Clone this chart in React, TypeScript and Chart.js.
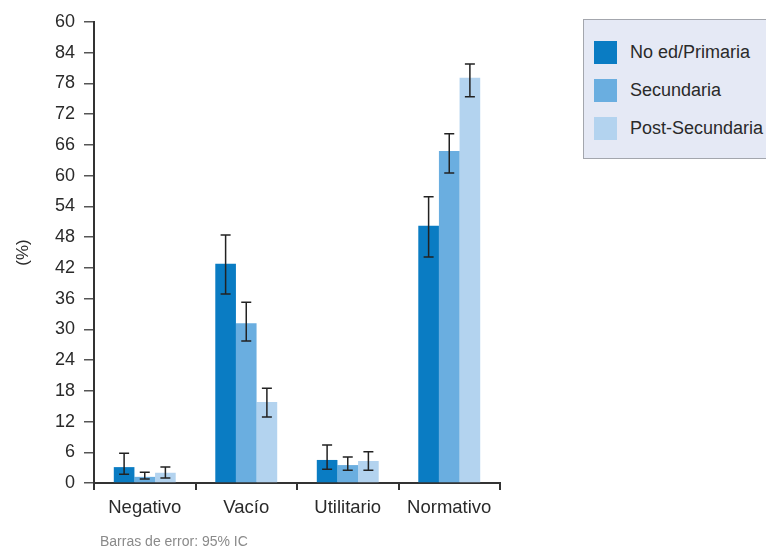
import React, { useEffect, useRef } from "react";
import { Chart, registerables } from "chart.js";

Chart.register(...registerables);

const categories = ["Negativo", "Vacío", "Utilitario", "Normativo"];
const seriesNames = ["No ed/Primaria", "Secundaria", "Post-Secundaria"];
const seriesColors = ["#0a7cc3", "#6aaee0", "#b3d3ef"];
const primaria = [3.1, 42.8, 4.5, 50.2];
const primariaLow = [1.7, 36.9, 2.7, 44.1];
const primariaHigh = [5.8, 48.4, 7.4, 55.9];
const secundaria = [1.2, 31.2, 3.5, 64.8];
const secundariaLow = [0.8, 27.7, 2.5, 60.5];
const secundariaHigh = [2.1, 35.3, 5.1, 68.2];
const postSecundaria = [2.0, 15.8, 4.3, 79.1];
const postLow = [1.0, 12.9, 2.5, 75.4];
const postHigh = [3.1, 18.5, 6.1, 81.8];
const yTickLabels = ["0", "6", "12", "18", "24", "30", "36", "42", "48", "54", "60", "66", "72", "78", "84", "60"];

const FONT = "'Liberation Sans', Arial, sans-serif";
const TEXT = "#2a2a2a";

const errorBarPlugin = {
  id: "errorBars",
  afterDatasetsDraw(chart: any) {
    const ctx = chart.ctx;
    const y = chart.scales.y;
    chart.data.datasets.forEach((ds: any, di: number) => {
      const meta = chart.getDatasetMeta(di);
      meta.data.forEach((bar: any, i: number) => {
        const lo = y.getPixelForValue(ds.errLow[i]);
        const hi = y.getPixelForValue(ds.errHigh[i]);
        const x = bar.x;
        ctx.save();
        ctx.strokeStyle = "#222222";
        ctx.lineWidth = 1.5;
        ctx.beginPath();
        ctx.moveTo(x, lo);
        ctx.lineTo(x, hi);
        ctx.moveTo(x - 5, lo);
        ctx.lineTo(x + 5, lo);
        ctx.moveTo(x - 5, hi);
        ctx.lineTo(x + 5, hi);
        ctx.stroke();
        ctx.restore();
      });
    });
  },
};

export default function App() {
  const ref = useRef<HTMLCanvasElement | null>(null);
  useEffect(() => {
    if (!ref.current) return;
    const chart = new Chart(ref.current, {
      type: "bar",
      data: {
        labels: categories,
        datasets: [
          { label: seriesNames[0], data: primaria, backgroundColor: seriesColors[0], errLow: primariaLow, errHigh: primariaHigh } as any,
          { label: seriesNames[1], data: secundaria, backgroundColor: seriesColors[1], errLow: secundariaLow, errHigh: secundariaHigh } as any,
          { label: seriesNames[2], data: postSecundaria, backgroundColor: seriesColors[2], errLow: postLow, errHigh: postHigh } as any,
        ],
      },
      options: {
        animation: false,
        responsive: false,
        devicePixelRatio: 1,
        layout: { padding: { top: 22, right: 266, bottom: 30, left: 0 } },
        plugins: { legend: { display: false }, tooltip: { enabled: false } },
        datasets: { bar: { categoryPercentage: 0.61, barPercentage: 1 } },
        scales: {
          x: {
            grid: { display: true, drawOnChartArea: false, drawTicks: true, tickLength: 7, color: "#333", lineWidth: 2, offset: true },
            border: { display: true, color: "#333", width: 2 },
            ticks: { color: TEXT, font: { family: FONT, size: 18.5 }, padding: 7 },
            afterFit: (s: any) => { s.height = 36; },
          },
          y: {
            min: 0,
            max: 90,
            grid: { display: true, drawOnChartArea: false, drawTicks: true, tickLength: 10, color: "#555", lineWidth: 1.5 },
            border: { display: true, color: "#333", width: 2 },
            ticks: {
              stepSize: 6,
              color: TEXT,
              font: { family: FONT, size: 18 },
              padding: 9,
              callback: (_v: any, i: number) => yTickLabels[i],
            },
            title: { display: true, text: "(%)", color: TEXT, font: { family: FONT, size: 17 }, padding: { top: 13, bottom: 0 } },
            afterFit: (s: any) => { s.width = 94; },
          },
        },
      },
      plugins: [errorBarPlugin],
    });
    return () => chart.destroy();
  }, []);

  return (
    <div style={{ position: "absolute", left: 0, top: 0, width: 766, height: 549, overflow: "hidden", background: "#fff", fontFamily: FONT }}>
      <canvas ref={ref} width={766} height={549} style={{ position: "absolute", left: 0, top: 0 }} />
      <div style={{ position: "absolute", left: 583, top: 19, width: 200, height: 140, background: "#e5e9f5", border: "1.5px solid #a3a6ad", boxSizing: "border-box" }}>
        {seriesNames.map((n, i) => (
          <div key={n} style={{ position: "absolute", left: 10, top: 21 + i * 38, height: 23, display: "flex", alignItems: "center" }}>
            <div style={{ width: 23, height: 23, background: seriesColors[i] }} />
            <span style={{ marginLeft: 13, fontSize: 18, color: TEXT, whiteSpace: "nowrap", lineHeight: "23px" }}>{n}</span>
          </div>
        ))}
      </div>
      <div style={{ position: "absolute", left: 100, top: 533, fontSize: 14, color: "#8a8a8a", whiteSpace: "nowrap", lineHeight: "16px" }}>
        Barras de error: 95% IC
      </div>
    </div>
  );
}
